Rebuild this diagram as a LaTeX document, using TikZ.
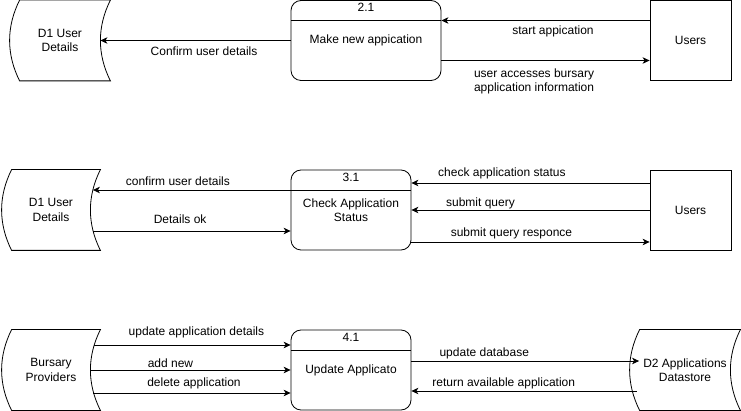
\documentclass[tikz,border=0pt]{standalone}
\usepackage{fontspec}
\setmainfont{Liberation Sans}
\usetikzlibrary{arrows.meta, positioning}

\begin{document}
\begin{tikzpicture}[
        x=1pt, y=-1pt, line width=0.8pt,
        font=\fontsize{12}{14.4}\selectfont,
        proc/.style={draw, rounded corners=10pt, minimum height=80pt, align=center,
            label={[anchor=north, inner sep=3pt]north:#1},
            path picture={\draw ([yshift=-20pt]path picture bounding box.north west)
                -- ([yshift=-20pt]path picture bounding box.north east);}},
        store/.style={minimum width=100pt, minimum height=80pt, align=center,
            append after command={\pgfextra{
                \draw ([xshift=10pt]\tikzlastnode.north west) -- (\tikzlastnode.north east)
                    .. controls +(-13.33pt,-26.67pt) and +(-13.33pt,26.67pt) .. (\tikzlastnode.south east)
                    -- ([xshift=10pt]\tikzlastnode.south west)
                    .. controls +(-13.33pt,26.67pt) and +(-13.33pt,-26.67pt) .. ([xshift=10pt]\tikzlastnode.north west)
                    -- cycle;}}},
        ent/.style={draw, minimum width=81pt, minimum height=80pt},
        lab/.style={inner sep=2pt},
        arr/.style={-{Stealth[length=7pt, width=6.5pt, inset=2pt]}}
    ]
        \useasboundingbox (0,0) rectangle (741,411);

        % row 2.1
        \node[store] (d1a) at (60,40.5) {D1 User\\Details};
        \node[proc=2.1, minimum width=150pt] (p21) at (366,40.5) {Make new appication};
        \node[ent] (u1) at (690.5,40.5) {Users};

        \draw[arr] (p21.west) -- ([xshift=-10pt]d1a.east)
            node[lab, pos=0.455, below=4pt] {Confirm user details};
        \draw[arr] ([yshift=20pt]u1.west) -- ([yshift=20pt]p21.east)
            node[lab, pos=0.464, below=3pt] {start appication};
        \draw[arr] ([yshift=-20pt]p21.east) -- ([yshift=-20pt]u1.west)
            node[lab, pos=0.445, below=6pt, align=center] {user accesses bursary\\application information};

        % row 3.1
        \node[store, minimum width=98pt] (d1b) at (51,210) {D1 User\\Details};
        \node[proc=3.1, minimum width=120pt] (p31) at (351,210) {Check Application\\Status};
        \node[ent] (u2) at (690.5,210) {Users};

        \draw[arr] ([yshift=20pt]p31.west) -- ([xshift=-7.5pt, yshift=20pt]d1b.east)
            node[lab, pos=0.57, above=2pt] {confirm user details};
        \draw[arr] ([xshift=-7pt, yshift=-21pt]d1b.east) -- ([yshift=-21pt]p31.west)
            node[lab, pos=0.44, above=5pt] {Details ok};
        \draw[arr] ([yshift=27pt]u2.west) -- ([yshift=27pt]p31.east)
            node[lab, pos=0.62, above=2pt] {check application status};
        \draw[arr] (u2.west) -- (p31.east)
            node[lab, pos=0.71, above=-1.5pt] {submit query};
        \draw[arr] ([yshift=-32pt]p31.east) -- ([yshift=-32pt]u2.west)
            node[lab, pos=0.42, above=1pt] {submit query responce};

        % row 4.1
        \node[store, minimum width=98pt] (bp) at (51,370) {Bursary\\Providers};
        \node[proc=4.1, minimum width=120pt] (p41) at (351,370) {Update Applicato};
        \node[store, minimum width=110pt] (d2) at (685,370) {D2 Applications\\Datastore};

        \draw[arr] ([xshift=-6pt, yshift=25pt]bp.east) -- ([yshift=25pt]p41.west)
            node[lab, pos=0.52, above=4.5pt] {update application details};
        \draw[arr] ([xshift=-10pt]bp.east) -- (p41.west)
            node[lab, pos=0.40, above=0pt] {add new};
        \draw[arr] ([xshift=-7pt, yshift=-23pt]bp.east) -- ([yshift=-23pt]p41.west)
            node[lab, pos=0.51, above=2pt] {delete application};
        \draw[arr] ([yshift=9pt]p41.east) -- ([xshift=9.5pt, yshift=9pt]d2.west)
            node[lab, pos=0.32, above=0pt] {update database};
        \draw[arr] ([xshift=7pt, yshift=-21pt]d2.west) -- ([yshift=-21pt]p41.east)
            node[lab, pos=0.59, above=0pt] {return available application};
    \end{tikzpicture}
\end{document}
